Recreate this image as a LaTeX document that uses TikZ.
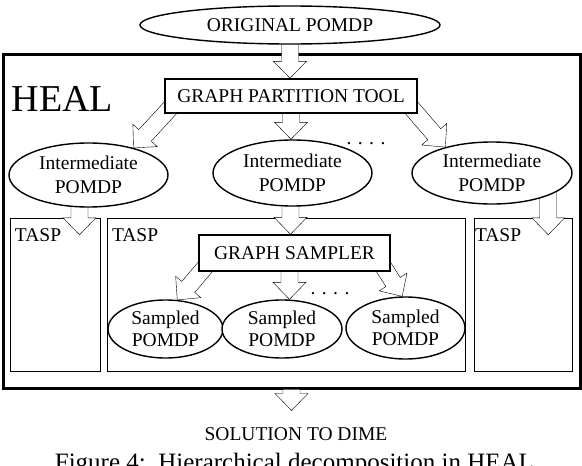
\documentclass[tikz,border=0pt]{standalone}
\usepackage{fontspec}
\setmainfont{Liberation Serif}
\usetikzlibrary{shapes.geometric}
\usetikzlibrary{calc}
\pgfdeclarelayer{background}
\pgfsetlayers{background,main}
\tikzset{
  oval/.style={ellipse, draw, fill=white, align=center},
  flat/.style={rectangle, draw, fill=white},
  taspbox/.style={rectangle, draw, minimum height=153pt},
  tasplabel/.style={anchor=base west},
  dots/.style={anchor=base},
  fat/.style={draw, fill=white, line join=miter,
    to path={
      ($(\tikztostart)!8.5pt!90:(\tikztotarget)$)
      -- ($($(\tikztotarget)!17pt!(\tikztostart)$)!8.5pt!90:(\tikztotarget)$)
      -- ($($(\tikztotarget)!17pt!(\tikztostart)$)!16.5pt!90:(\tikztotarget)$)
      -- (\tikztotarget)
      -- ($($(\tikztotarget)!17pt!(\tikztostart)$)!16.5pt!-90:(\tikztotarget)$)
      -- ($($(\tikztotarget)!17pt!(\tikztostart)$)!8.5pt!-90:(\tikztotarget)$)
      -- ($(\tikztostart)!8.5pt!-90:(\tikztotarget)$)
    }},
}

\begin{document}
\begin{tikzpicture}[x=1pt, y=-1pt, line width=1.4pt, font=\fontsize{19.5}{24}\selectfont,
    every node/.style={inner sep=0pt}]
  \useasboundingbox (0,0) rectangle (582,466);

  % top level
  \node[oval, minimum width=300pt, minimum height=38pt] (orig) at (290,25) {ORIGINAL POMDP};
  \node[flat, minimum width=252pt, minimum height=34pt] (gpt) at (291,96) {GRAPH PARTITION TOOL};
  \node[anchor=base west, font=\fontsize{38}{40}\selectfont] (heallabel) at (11,111) {HEAL};

  % intermediate pomdps
  \node[oval, minimum width=159pt, minimum height=64pt] (int1) at (88.5,175) {Intermediate\\POMDP};
  \node[oval, minimum width=159pt, minimum height=66pt] (int2) at (292.5,173) {Intermediate\\POMDP};
  \node[oval, minimum width=160pt, minimum height=62pt] (int3) at (492,173) {Intermediate\\POMDP};
  \node[dots] (dotsa) at (366,144) {. . . .};

  % sampled pomdps
  \node[flat, minimum width=191pt, minimum height=36pt] (sampler) at (294.5,253) {GRAPH SAMPLER};
  \node[oval, minimum width=115pt, minimum height=58pt, font=\fontsize{19.5}{22}\selectfont] (s1) at (165.5,329) {Sampled\\POMDP};
  \node[oval, minimum width=120pt, minimum height=58pt, font=\fontsize{19.5}{22}\selectfont] (s2) at (282,329) {Sampled\\POMDP};
  \node[oval, minimum width=119pt, minimum height=62pt, font=\fontsize{19.5}{22}\selectfont] (s3) at (405.5,328) {Sampled\\POMDP};
  \node[dots] (dotsb) at (330,294) {. . . .};

  \node[anchor=base] (sol) at (296,440) {SOLUTION TO DIME};
  \node[anchor=base, font=\fontsize{25}{30}\selectfont] (caption) at (297.5,470) {Figure 4:\ \ Hierarchical decomposition in HEAL.};

  \begin{pgfonlayer}{background}
    \node[draw, line width=3pt, minimum width=577pt, minimum height=334pt] (heal) at (291.5,221) {};
    \node[taspbox, minimum width=90pt] (tasp1) at (55,294.5) {};
    \node[taspbox, minimum width=358pt] (tasp2) at (286,294.5) {};
    \node[taspbox, minimum width=98pt] (tasp3) at (523,294.5) {};
    \node[tasplabel] (tasp1label) at ($(tasp1.north west)+(5,24)$) {TASP};
    \node[tasplabel] (tasp2label) at ($(tasp2.north west)+(5,24)$) {TASP};
    \node[tasplabel] (tasp3label) at ($(tasp3.north west)+(1,24)$) {TASP};

    % block arrows
    \coordinate (tip0) at (orig.south |- gpt.north);
    \draw[fat] (orig.south) to (tip0);
    \coordinate (tipa) at (gpt.south |- int2.north);
    \draw[fat] (gpt.south) to (tipa);
    \coordinate (fromb) at ($(gpt.south west)+(8,-8)$);
    \draw[fat] (fromb) to (int1.31);
    \coordinate (fromc) at ($(gpt.south east)+(-8,-8)$);
    \draw[fat] (fromc) to (int3.151);

    \coordinate (fromd) at ($(int1.south)+(-9,-4)$);
    \coordinate (tipd) at ($(fromd |- tasp1.north)+(0,17)$);
    \draw[fat] (fromd) to (tipd);
    \coordinate (frome) at ($(int2.south)+(-2,-4)$);
    \coordinate (tipe) at (frome |- sampler.north);
    \draw[fat] (frome) to (tipe);
    \coordinate (fromf) at ($(int3.-22)+(0,-4)$);
    \coordinate (tipf) at ($(fromf |- tasp3.north)+(0,17)$);
    \draw[fat] (fromf) to (tipf);

    \coordinate (fromg) at ($(sampler.south west)+(8,-6)$);
    \draw[fat] (fromg) to (s1.68);
    \coordinate (fromh) at ($(sampler.south)+(-5,-4)$);
    \coordinate (tiph) at (fromh |- s2.north);
    \draw[fat] (fromh) to (tiph);
    \coordinate (fromi) at ($(sampler.south east)+(-8,-6)$);
    \draw[fat] (fromi) to (s3.96);

    \coordinate (tipj) at ($(heal.south)+(0,21)$);
    \draw[fat] (heal.south) to (tipj);
  \end{pgfonlayer}
\end{tikzpicture}
\end{document}
